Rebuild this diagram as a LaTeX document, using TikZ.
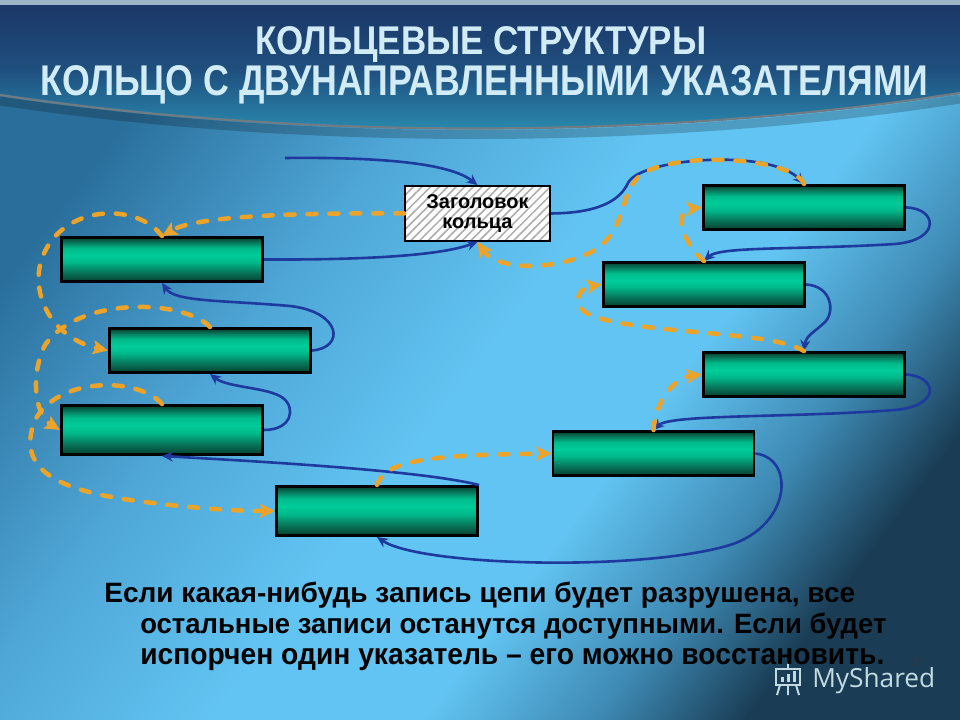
\documentclass[tikz,border=0pt]{standalone}
\usepackage{fontspec}
\usepackage{graphicx}
\setmainfont{Liberation Sans}
\newfontfamily\wmfont{Open Sans}
\usetikzlibrary{arrows.meta,patterns.meta}
\newdimen\px \px=0.025cm
\definecolor{bgA}{HTML}{2A6F9C}
\definecolor{bgB}{HTML}{4EA6D6}
\definecolor{bgC}{HTML}{62C4F2}
\definecolor{bgD}{HTML}{3E8AB4}
\definecolor{bgE}{HTML}{1A3D55}
\definecolor{bnA}{HTML}{2B93B3}
\definecolor{bnB}{HTML}{2677A0}
\definecolor{bnC}{HTML}{1F4F7E}
\definecolor{bnD}{HTML}{1B3566}
\definecolor{gA}{HTML}{04402E}
\definecolor{gB}{HTML}{087258}
\definecolor{gC}{HTML}{00B98A}
\definecolor{gD}{HTML}{00CC99}
\definecolor{bluel}{HTML}{1E3A9E}
\definecolor{orng}{HTML}{EBA32A}
\definecolor{titlec}{HTML}{D2ECF7}
\definecolor{wmc}{HTML}{C2DAE2}
\definecolor{edgec}{HTML}{6F7C84}
\definecolor{stripc}{HTML}{9FB6C6}
\pgfdeclarehorizontalshading{bgshade}{100bp}{color(0bp)=(bgA); color(25bp)=(bgA); color(38bp)=(bgB); color(50bp)=(bgC); color(60bp)=(bgC); color(68bp)=(bgD); color(75bp)=(bgE); color(100bp)=(bgE)}
\pgfdeclareverticalshading{bannershade}{100bp}{color(0bp)=(bnA); color(25bp)=(bnA); color(35bp)=(bnB); color(50bp)=(bnC); color(75bp)=(bnD); color(100bp)=(bnD)}
\pgfdeclareverticalshading{boxshade}{100bp}{color(0bp)=(gA); color(25bp)=(gA); color(35bp)=(gB); color(47bp)=(gC); color(55bp)=(gD); color(63bp)=(gC); color(70bp)=(gB); color(75bp)=(gA); color(100bp)=(gA)}
\tikzset{
  rec/.style={draw=black, line width=2.1pt, shading=boxshade, minimum width=201\px, minimum height=44\px, inner sep=0pt},
  rectall/.style={rec, minimum height=49\px},
  hdrbox/.style={draw=black, line width=1.8pt, preaction={fill=white},
    pattern={Lines[angle=45,distance=4.3pt,line width=1.1pt]}, pattern color=gray!65,
    minimum width=145\px, minimum height=55\px, align=center, inner sep=0pt,
    font=\bfseries\fontsize{14.2}{14.2}\selectfont},
  fwd/.style={draw=bluel, line width=1.85pt, -{Stealth[length=7.8pt,width=7.1pt]}},
  bwd/.style={draw=orng, line width=3.2pt, line cap=round, dash pattern=on 6.4pt off 9.2pt,
    -{Stealth[length=10.7pt,width=10pt,inset=2.1pt]}},
  txt/.style={anchor=base west, inner sep=0pt},
}
\begin{document}
\begin{tikzpicture}[x=0.025cm,y=-0.025cm]
\useasboundingbox (0,0) rectangle (960,720);
% background
\fill[shading=bgshade, shading angle=-37] (0,0) rectangle (960,720);
% banner
\fill[shading=bannershade] (0,0) -- (960,0) -- (960,93) .. controls (660,140) and (300,140) .. (0,95) -- cycle;
\draw[line width=6.4pt, black, opacity=0.2] (960,99) .. controls (660,146) and (300,146) .. (0,101);
\draw[line width=1.6pt, color=edgec] (960,93) .. controls (660,140) and (300,140) .. (0,95);
\fill[color=stripc] (0,0) rectangle (960,5);
% title
\node[txt, text=titlec] (t1) at (255,55) {\resizebox{451\px}{28\px}{\bfseries КОЛЬЦЕВЫЕ СТРУКТУРЫ}};
\node[txt, text=titlec] (t2) at (40,96) {\resizebox{888\px}{30\px}{\bfseries КОЛЬЦО С ДВУНАПРАВЛЕННЫМИ УКАЗАТЕЛЯМИ}};
% nodes
\node[hdrbox] (hdr) at (477.5,213.5) {Заголовок\\кольца};
\node[rec] (r1) at (804,207.5) {};
\node[rec] (r2) at (704,284.5) {};
\node[rec] (r3) at (804,374.5) {};
\node[rec] (r4) at (653.5,453.5) {};
\node[rectall] (l5) at (377,511) {};
\node[rectall] (l4) at (162,430) {};
\node[rec] (l3) at (210,350.5) {};
\node[rec] (l2) at (162,259.5) {};
\coordinate (start) at (285,158);
% forward pointers
\draw[fwd] (start) .. controls (380,157) and (450,163) .. (hdr.north);
\draw[fwd] (hdr.east) .. controls (600,213) and (620,200) .. (628,183) .. controls (640,158) and (770,148) .. (r1.north);
\draw[fwd] (r1.east) .. controls (937,208) and (942,240) .. (895,244) .. controls (800,250) and (720,246) .. (r2.north);
\draw[fwd] (r2.east) .. controls (832,286) and (835,312) .. (825,322) .. controls (815,332) and (806,335) .. (r3.north);
\draw[fwd] (r3.east) .. controls (937,376) and (942,406) .. (895,410) .. controls (790,418) and (670,414) .. (r4.north);
\draw[fwd] (r4.east) .. controls (795,458) and (792,525) .. (730,545) .. controls (640,572) and (420,566) .. (l5.south);
\draw[fwd] (l5.north east) .. controls (420,470) and (250,461) .. (l4.south);
\draw[fwd] (l4.east) .. controls (292,430) and (296,408) .. (283,398) .. controls (268,387) and (228,388) .. (l3.south);
\draw[fwd] (l3.east) .. controls (345,348) and (342,312) .. (290,306) .. controls (220,300) and (175,302) .. (l2.south);
\draw[fwd] (l2.east) .. controls (360,260) and (440,256) .. (hdr.south);
% backward pointers
\draw[bwd] (hdr.west) .. controls (320,213) and (200,214) .. (l2.north);
\draw[bwd] (l2.north) .. controls (135,200) and (55,205) .. (40,265) .. controls (32,305) and (60,340) .. (l3.west);
\draw[bwd] (l3.north) .. controls (185,300) and (80,295) .. (45,345) .. controls (30,375) and (35,415) .. (l4.west);
\draw[bwd] (l4.north) .. controls (140,378) and (60,375) .. (35,420) .. controls (15,470) and (60,490) .. (130,500) .. controls (180,507) and (230,511) .. (l5.west);
\draw[bwd] (l5.north) .. controls (385,460) and (430,455) .. (r4.west);
\draw[bwd] (r4.north) .. controls (655,405) and (672,378) .. (r3.west);
\draw[bwd] (r3.north) .. controls (770,330) and (640,335) .. (590,315) .. controls (570,305) and (578,288) .. (r2.west);
\draw[bwd] (r2.north) .. controls (680,240) and (675,210) .. (r1.west);
\draw[bwd] (r1.north) .. controls (795,160) and (690,150) .. (645,172) .. controls (615,190) and (632,235) .. (585,255) .. controls (545,272) and (495,268) .. (hdr.south);
% body text
\node[txt] (b1) at (104,602) {\resizebox{751\px}{20.5\px}{\bfseries\vphantom{Е}Если какая-нибудь запись цепи будет разрушена, все}};
\node[txt] (b2) at (140,633) {\resizebox{746\px}{20.5\px}{\bfseries\vphantom{Е}остальные записи останутся доступными. Если будет}};
% watermark
\node[txt, text=wmc] (wm) at (812,687) {\resizebox{123\px}{20\px}{\wmfont MyShared}};
\begin{scope}[draw=wmc, line width=1.4pt]
  \draw (776,669) rectangle (800,685);
  \fill[wmc] (781,677) rectangle (784,682);
  \fill[wmc] (787,674) rectangle (790,682);
  \fill[wmc] (793,671) rectangle (796,682);
  \draw (788,685) -- (788,695) (780,685) -- (777,695) (796,685) -- (799,695);
  \draw (788,663) -- (788,669);
\end{scope}
\node[txt, text=black!80, font=\fontsize{7}{7}\selectfont] (num) at (910,665) {17};
\node[txt] (b3) at (140,664) {\resizebox{744\px}{20.5\px}{\bfseries\vphantom{Е}испорчен один указатель – его можно восстановить.}};
\end{tikzpicture}
\end{document}
